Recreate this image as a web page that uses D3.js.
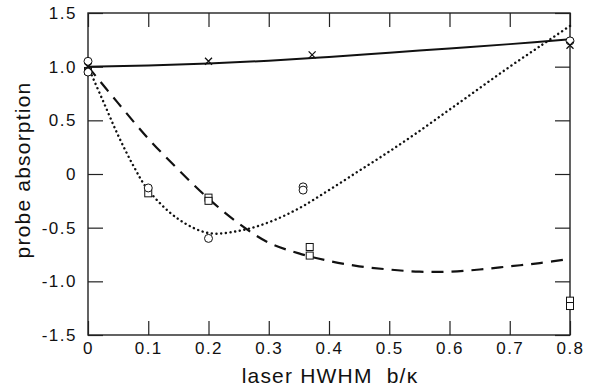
<!DOCTYPE html>
<html>
<head>
<meta charset="utf-8">
<script src="https://cdn.jsdelivr.net/npm/d3@7"></script>
<style>
  body { margin: 0; background: #fff; }
  svg { display: block; font-family: "Liberation Sans", Arial, sans-serif; }
  .axis text { font-size: 17px; fill: #111; letter-spacing: 1.5px; }
  .axis line { stroke: #222; stroke-width: 1.2; }
  .axis path { display: none; }
  .title { font-size: 21px; fill: #111; letter-spacing: 1.2px; }
</style>
</head>
<body>
<div id="chart"></div>
<script>
// tick values
const xTicks = [0, 0.1, 0.2, 0.3, 0.4, 0.5, 0.6, 0.7, 0.8];
const yTicks = [-1.5, -1.0, -0.5, 0, 0.5, 1.0, 1.5];

// fitted curves
const solidX = [0, 0.1, 0.2, 0.3, 0.4, 0.5, 0.6, 0.7, 0.8];
const solidY = [1.0, 1.012, 1.03, 1.055, 1.09, 1.13, 1.17, 1.21, 1.255];

const dottedX = [0, 0.025, 0.05, 0.075, 0.1, 0.15, 0.2, 0.25, 0.3, 0.35, 0.4, 0.45, 0.5, 0.55, 0.6, 0.65, 0.7, 0.75, 0.8];
const dottedY = [1.0, 0.68, 0.36, 0.08, -0.15, -0.42, -0.55, -0.53, -0.45, -0.32, -0.15, 0.03, 0.21, 0.40, 0.60, 0.80, 1.0, 1.19, 1.38];

const dashedX = [0, 0.05, 0.1, 0.15, 0.2, 0.25, 0.3, 0.35, 0.4, 0.45, 0.5, 0.55, 0.6, 0.65, 0.7, 0.75, 0.8];
const dashedY = [1.0, 0.66, 0.33, 0.04, -0.23, -0.46, -0.64, -0.74, -0.81, -0.86, -0.89, -0.91, -0.91, -0.89, -0.86, -0.83, -0.79];

// measured points
const circleX = [0, 0, 0.1, 0.2, 0.357, 0.357, 0.8];
const circleY = [1.05, 0.95, -0.13, -0.6, -0.12, -0.15, 1.24];
const squareX = [0, 0.1, 0.2, 0.2, 0.368, 0.368, 0.8, 0.8];
const squareY = [0.96, -0.18, -0.22, -0.25, -0.68, -0.76, -1.18, -1.23];
const crossX = [0, 0.2, 0.372, 0.8];
const crossY = [1.0, 1.05, 1.11, 1.2];

const W = 594, H = 387;
const margin = { top: 13, right: 24, bottom: 52, left: 88 };
const width = W - margin.left - margin.right;
const height = H - margin.top - margin.bottom;

const svg = d3.select('#chart').append('svg')
  .attr('width', W).attr('height', H);
const g = svg.append('g').attr('transform', `translate(${margin.left},${margin.top})`);

const x = d3.scaleLinear().domain([0, 0.8]).range([0, width]);
const y = d3.scaleLinear().domain([-1.5, 1.5]).range([height, 0]);

const fmtX = d => d === 0 ? '0' : d3.format('.1f')(d);
const fmtY = d => d === 0 ? '0' : d3.format('.1f')(d).replace('−', '-');

// axes, ticks inward on all four sides
g.append('g').attr('class', 'axis')
  .attr('transform', `translate(0,${height})`)
  .call(d3.axisBottom(x).tickValues(xTicks).tickFormat(fmtX).tickSize(-14).tickPadding(7));
g.append('g').attr('class', 'axis')
  .call(d3.axisTop(x).tickValues(xTicks).tickFormat('').tickSize(-14));
g.append('g').attr('class', 'axis')
  .call(d3.axisLeft(y).tickValues(yTicks).tickFormat(fmtY).tickSize(-15).tickPadding(11));
g.append('g').attr('class', 'axis')
  .attr('transform', `translate(${width},0)`)
  .call(d3.axisRight(y).tickValues(yTicks).tickFormat('').tickSize(-15));

g.append('rect')
  .attr('width', width).attr('height', height)
  .attr('fill', 'none').attr('stroke', '#222').attr('stroke-width', 1.4);

// curves
const line = d3.line().x(d => x(d[0])).y(d => y(d[1])).curve(d3.curveCatmullRom.alpha(0.5));
const zip = (a, b) => a.map((v, i) => [v, b[i]]);

g.append('path').datum(zip(solidX, solidY))
  .attr('d', line).attr('fill', 'none').attr('stroke', '#111').attr('stroke-width', 2);
g.append('path').datum(zip(dashedX, dashedY))
  .attr('d', line).attr('fill', 'none').attr('stroke', '#111').attr('stroke-width', 2.2)
  .attr('stroke-dasharray', '12,8');
g.append('path').datum(zip(dottedX, dottedY))
  .attr('d', line).attr('fill', 'none').attr('stroke', '#111').attr('stroke-width', 2.4)
  .attr('stroke-linecap', 'round').attr('stroke-dasharray', '0.1,4.6');

// markers
g.selectAll('.sq').data(zip(squareX, squareY)).enter().append('rect')
  .attr('x', d => x(d[0]) - 3.5).attr('y', d => y(d[1]) - 3.5)
  .attr('width', 7).attr('height', 7)
  .attr('fill', '#fff').attr('stroke', '#111').attr('stroke-width', 1);
g.selectAll('.ci').data(zip(circleX, circleY)).enter().append('circle')
  .attr('cx', d => x(d[0])).attr('cy', d => y(d[1])).attr('r', 4)
  .attr('fill', '#fff').attr('stroke', '#111').attr('stroke-width', 1);
g.selectAll('.cr').data(zip(crossX, crossY)).enter().append('path')
  .attr('d', d => {
    const cx = x(d[0]), cy = y(d[1]), s = 3.5;
    return `M${cx - s},${cy - s}L${cx + s},${cy + s}M${cx - s},${cy + s}L${cx + s},${cy - s}`;
  })
  .attr('fill', 'none').attr('stroke', '#111').attr('stroke-width', 1.3);

// titles
svg.append('text').attr('class', 'title')
  .attr('x', 330).attr('y', 383).attr('text-anchor', 'middle')
  .attr('xml:space', 'preserve')
  .text('laser HWHM  b/κ');
svg.append('text').attr('class', 'title')
  .attr('transform', 'translate(30,170) rotate(-90)')
  .attr('text-anchor', 'middle')
  .text('probe absorption');
</script>
</body>
</html>
